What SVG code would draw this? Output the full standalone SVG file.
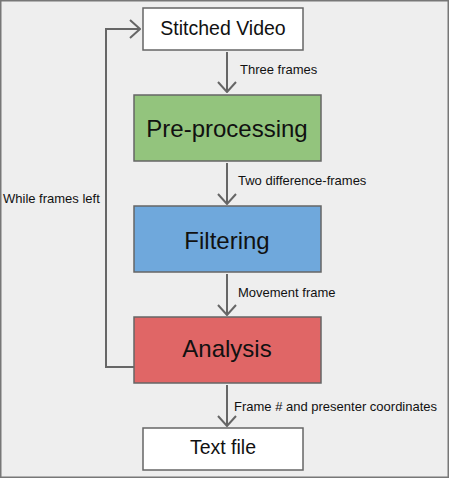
<svg xmlns="http://www.w3.org/2000/svg" width="449" height="478" viewBox="0 0 449 478">
<defs>
<style>
.node{stroke:#666666;stroke-width:1.5}
.big{font-family:"Liberation Sans",Arial,sans-serif;fill:#111;text-anchor:middle}
.lbl{font-family:"Liberation Sans",Arial,sans-serif;font-size:13px;fill:#111}
.edge{fill:none;stroke:#666666;stroke-width:2}
</style>
<marker id="arr" viewBox="0 0 12 20" refX="11" refY="10" markerWidth="12" markerHeight="20" markerUnits="userSpaceOnUse" orient="auto">
<path d="M1,1 L11,10 L1,19" fill="none" stroke="#666666" stroke-width="2"/>
</marker>
</defs>
<rect x="0.75" y="0.75" width="447.5" height="476.5" fill="#eeeeee" stroke="#777777" stroke-width="1.5"/>
<g id="connectors">
<line class="edge" x1="227" y1="52" x2="227" y2="92" marker-end="url(#arr)"/>
<line class="edge" x1="227" y1="163" x2="227" y2="204" marker-end="url(#arr)"/>
<line class="edge" x1="227" y1="274" x2="227" y2="315" marker-end="url(#arr)"/>
<line class="edge" x1="227" y1="385" x2="227" y2="426" marker-end="url(#arr)"/>
<polyline class="edge" points="134,367 106,367 106,29 140,29" marker-end="url(#arr)"/>
<text class="lbl" x="240" y="74">Three frames</text>
<text class="lbl" x="238" y="185">Two difference-frames</text>
<text class="lbl" x="238" y="297">Movement frame</text>
<text class="lbl" x="234" y="411">Frame # and presenter coordinates</text>
<text class="lbl" x="3" y="203">While frames left</text>
</g>
<g id="stitched">
<rect class="node" x="143" y="8" width="160" height="42" fill="#ffffff"/>
<text class="big" x="223" y="35" font-size="19.5">Stitched Video</text>
</g>
<g id="preprocessing">
<rect class="node" x="134" y="95" width="187" height="66" fill="#93c47d"/>
<text class="big" x="227" y="137" font-size="24">Pre-processing</text>
</g>
<g id="filtering">
<rect class="node" x="134" y="206" width="187" height="66" fill="#6fa8dc"/>
<text class="big" x="227" y="249" font-size="24">Filtering</text>
</g>
<g id="analysis">
<rect class="node" x="134" y="317" width="187" height="66" fill="#e06666"/>
<text class="big" x="227" y="357" font-size="24">Analysis</text>
</g>
<g id="textfile">
<rect class="node" x="143" y="428" width="160" height="42" fill="#ffffff"/>
<text class="big" x="223" y="454" font-size="19.5">Text file</text>
</g>
</svg>
